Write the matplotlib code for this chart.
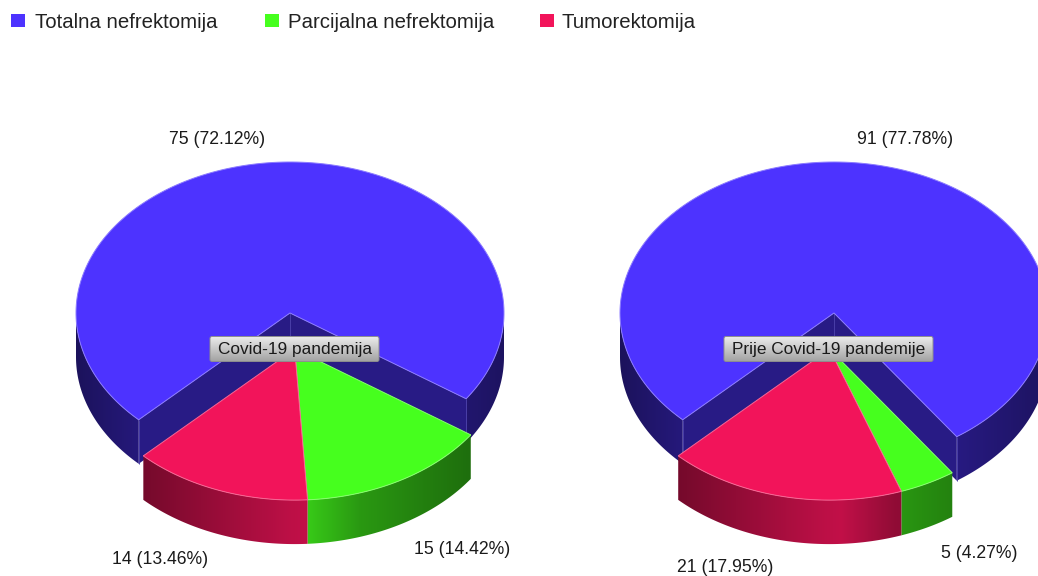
import numpy as np
import matplotlib
matplotlib.use("Agg")
import matplotlib.pyplot as plt
from matplotlib.patches import Polygon, FancyBboxPatch, Rectangle

plt.rcParams['font.family'] = ['Liberation Sans', 'DejaVu Sans']

categories = ['Totalna nefrektomija', 'Parcijalna nefrektomija', 'Tumorektomija']
covid_values = [75, 15, 14]
before_values = [91, 5, 21]
titles = ['Covid-19 pandemija', 'Prije Covid-19 pandemije']
colors = ['#4d33ff', '#46ff1e', '#f2145a']

RX, RY, DEPTH = 214, 151, 44
START = 225
PULL = 0.24


def shade(color, f):
    return np.clip(np.array(matplotlib.colors.to_rgb(color)) * f, 0, 1)


def pt(a, cx, cy):
    a = np.radians(a)
    return cx + RX * np.sin(a), cy - RY * np.cos(a)


def wall(ax, a0, a1, cx, cy, color):
    # outer wall, only the part facing the viewer
    for k in (0, 360):
        lo, hi = max(a0, 90 + k), min(a1, 270 + k)
        if hi <= lo:
            continue
        x, y = pt(np.linspace(lo, hi, 80), cx, cy)
        xy = np.r_[np.c_[x, y], np.c_[x, y + DEPTH][::-1]]
        poly = Polygon(xy, closed=True, fc='none', ec='none')
        ax.add_patch(poly)
        u = np.linspace(-1, 1, 256)
        f = np.interp(u, [-1, -0.02, 0.05, 0.3, 0.6, 1], [0.36, 0.78, 0.8, 0.6, 0.5, 0.38])
        grad = np.array([[shade(color, v) for v in f]])
        x0, x1 = cx - RX, cx + RX
        im = ax.imshow(grad, extent=(x0, x1, cy + 300, cy - 300), aspect='auto',
                       interpolation='bilinear', zorder=2)
        im.set_clip_path(poly)


def top(ax, a0, a1, cx, cy, color):
    x, y = pt(np.linspace(a0, a1, 200), cx, cy)
    xy = np.r_[[[cx, cy]], np.c_[x, y]]
    edge = 0.65 * np.array(matplotlib.colors.to_rgb(color)) + 0.35
    ax.add_patch(Polygon(xy, closed=True, fc=color, ec=edge, lw=0.7, zorder=3))


def draw_pie(ax, values, cx, cy):
    total = sum(values)
    sweeps = [v / total * 360 for v in values]
    end = START + sweeps[0]

    # the first slice stays put, the others are pulled out together
    wall(ax, START, end, cx, cy, colors[0])
    inner = '#281b85'
    for a in (START, end):
        x, y = pt(a, cx, cy)
        ax.add_patch(Polygon([(cx, cy), (x, y), (x, y + DEPTH), (cx, cy + DEPTH)],
                             closed=True, fc=inner, ec='none', zorder=2))
        ax.plot([x, x], [y, y + DEPTH], color='#4a3fa8', lw=0.7, zorder=2,
                solid_capstyle='butt')
    ax.plot([cx, cx], [cy, cy + DEPTH], color='#4a3fa8', lw=0.7, zorder=2,
            solid_capstyle='butt')
    top(ax, START, end, cx, cy, colors[0])

    mid = np.radians(end + (START + 360 - end) / 2)
    ox = cx + PULL * RX * np.sin(mid)
    oy = cy - PULL * RY * np.cos(mid)
    a = end
    for s, c in zip(sweeps[1:], colors[1:]):
        wall(ax, a, a + s, ox, oy, c)
        a += s
    a = end
    for s, c in zip(sweeps[1:], colors[1:]):
        top(ax, a, a + s, ox, oy, c)
        a += s


def value_label(values, i):
    return f"{values[i]} ({values[i] / sum(values) * 100:.2f}%)"


def title_box(ax, x0, x1, y0, y1, text):
    box = FancyBboxPatch((x0, y0), x1 - x0, y1 - y0, boxstyle='round,pad=0,rounding_size=2',
                         fc='none', ec='#8f8f8f', lw=0.7, zorder=6)
    ax.add_patch(box)
    grad = np.linspace(0.93, 0.64, 64)[:, None]
    im = ax.imshow(grad, extent=(x0, x1, y1, y0), cmap='gray', vmin=0, vmax=1,
                   aspect='auto', interpolation='bilinear', zorder=5)
    im.set_clip_path(box)
    ax.text((x0 + x1) / 2, (y0 + y1) / 2 + 0.5, text, ha='center', va='center',
            fontsize=12.4, color='#1a1a1a', zorder=7)


fig = plt.figure(figsize=(10.38, 5.76), dpi=100)
ax = fig.add_axes([0, 0, 1, 1])
ax.set_xlim(0, 1038)
ax.set_ylim(576, 0)
ax.autoscale(False)
ax.axis('off')

draw_pie(ax, covid_values, 290, 313)
draw_pie(ax, before_values, 834, 313)

title_box(ax, 210, 379, 336.5, 361.5, titles[0])
title_box(ax, 724, 933, 336.5, 361.5, titles[1])

label_size = 12.7
ax.text(217, 139, value_label(covid_values, 0), ha='center', va='center', fontsize=label_size, color='#1a1a1a')
ax.text(462, 550, value_label(covid_values, 1), ha='center', va='center', fontsize=label_size, color='#1a1a1a')
ax.text(160, 560, value_label(covid_values, 2), ha='center', va='center', fontsize=label_size, color='#1a1a1a')
ax.text(905, 139, value_label(before_values, 0), ha='center', va='center', fontsize=label_size, color='#1a1a1a')
ax.text(979, 553, value_label(before_values, 1), ha='center', va='center', fontsize=label_size, color='#1a1a1a')
ax.text(725, 567, value_label(before_values, 2), ha='center', va='center', fontsize=label_size, color='#1a1a1a')

# legend
for name, c, sx, tx in zip(categories, colors, [11, 265, 540], [35, 288, 562]):
    ax.add_patch(Rectangle((sx, 14), 14, 13, fc=c, ec='none'))
    ax.text(tx, 22, name, ha='left', va='center', fontsize=14.7, color='#222222')

fig.savefig('out.png', dpi=100)
